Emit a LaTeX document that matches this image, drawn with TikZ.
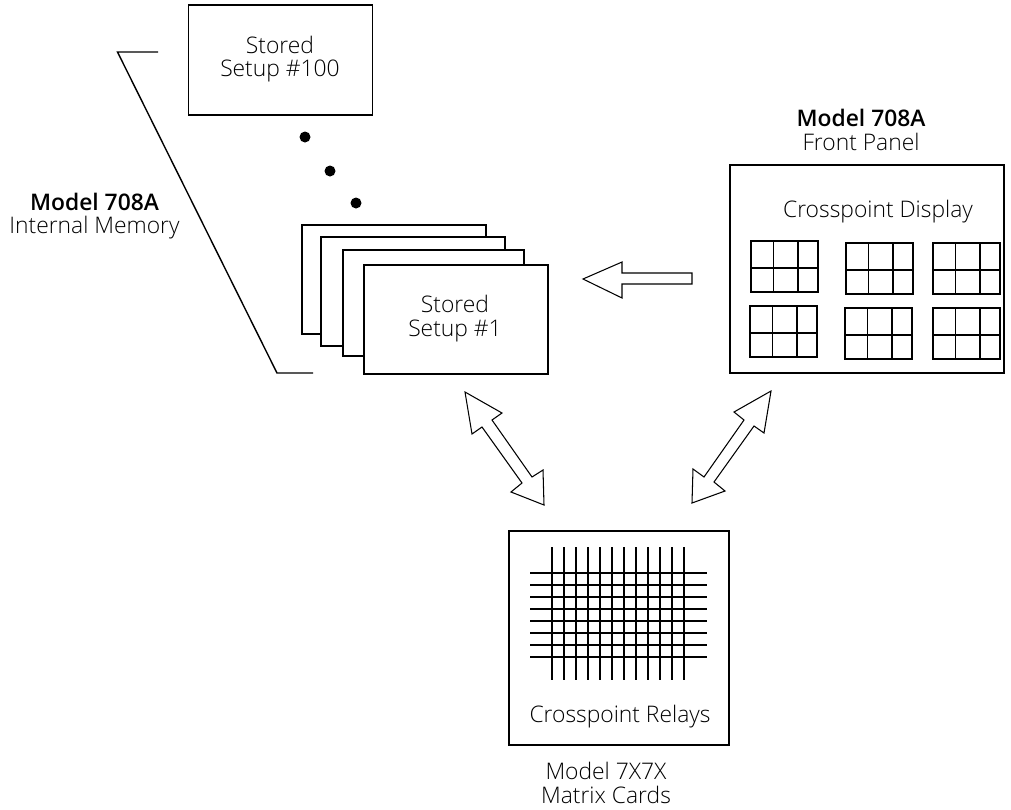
\documentclass[tikz,border=0pt]{standalone}
\usepackage{fontspec}
\setmainfont{Open Sans Light}[BoldFont={Open Sans Semibold}]
\usepackage{tikz}
\usetikzlibrary{positioning}

\begin{document}
\begin{tikzpicture}
    [
      x=0.02cm,y=-0.02cm,
      card/.style={draw,fill=white,line width=1pt,inner sep=0pt,minimum width=3.68cm,minimum height=2.18cm,align=center},
      panel/.style={draw,line width=1pt,inner sep=0pt},
      label/.style={inner sep=0pt,align=center,font=\fontsize{13}{13.5}\selectfont},
      dot/.style={circle,fill=black,inner sep=0pt,minimum size=0.22cm},
      cell/.style={line width=1pt},
      wire/.style={line width=1pt},
      hollow/.style={line width=0.6pt,line join=miter},
    ]
    \useasboundingbox (0,0) rectangle (1011,809);

    \node (setup100) [card,minimum height=2.2cm] at (280.5,60) {};
    \node (setup100text) [label] at (280,59) {Stored\\Setup \#100};
    \node (dota) [dot] at (305,137) {};
    \node (dotb) [dot] at (330,171) {};
    \node (dotc) [dot] at (356,203) {};

    \node (setupd) [card] at (394,279.5) {};
    \node (setupc) [card] at (413,291.5) {};
    \node (setupb) [card,minimum width=3.62cm,minimum height=2.12cm] at (433.5,303) {};
    \node (setupa) [card] at (456,319.5) {};
    \node (setupatext) [label] at (455,318.5) {Stored\\Setup \#1};

    % bracket around the stored setups
    \coordinate (brtop) at (158,52);
    \coordinate (brtopc) at (117.5,52);
    \coordinate (brbotc) at (277,373);
    \coordinate (brbot) at (313,373);
    \draw [line width=0.8pt] (brtop) -- (brtopc) -- (brbotc) -- (brbot);
    \node (memlabel) [label] at (94.5,216) {\textbf{Model 708A}\\Internal Memory};

    \node (front) [panel,minimum width=5.48cm,minimum height=4.16cm] at (867,269) {};
    \node (frontlabel) [label] at (861,130) {\textbf{Model 708A}\\Front Panel};
    \node (displaylabel) [label] at (878,212) {Crosspoint Display};
    \foreach \x/\y in {751/241,846/243,933/243,750/306,845/308,933/308} {
      \draw [cell] (\x,\y) rectangle ++(67,51);
      \draw [cell] (\x+22.5,\y) -- ++(0,51);
      \draw [cell] (\x+47,\y) -- ++(0,51);
      \draw [cell] (\x,\y+27) -- ++(67,0);
    }

    \node (relays) [panel,minimum width=4.4cm,minimum height=4.28cm] at (619,638) {};
    \node (relaylabel) [label] at (620,717) {Crosspoint Relays};
    \foreach \i in {0,...,11} {
      \draw [wire] (552.3+11.97*\i,547) -- (552.3+11.97*\i,680);
    }
    \foreach \j in {0,...,7} {
      \draw [wire] (530,573+11.96*\j) -- (707,573+11.96*\j);
    }
    \node (cardlabel) [label] at (606,783) {Model 7X7X\\Matrix Cards};

    % hollow block arrows
    \coordinate (savetip) at (583,279);
    \coordinate (recalltip) at (465,392);
    \coordinate (recallend) at (544,505);
    \coordinate (paneltip) at (771,391);
    \coordinate (panelend) at (692,503);
    \draw [hollow] (savetip) -- (622,262) -- (622,273) -- (692,273) -- (692,284) -- (622,284) -- (622,298) -- cycle;
    \draw [hollow] (recalltip) -- (502,413) -- (492,420) -- (532,477) -- (543,470) -- (recallend)
      -- (511,492) -- (522,483) -- (482,427) -- (472,434) -- cycle;
    \draw [hollow] (paneltip) -- (734,412) -- (744,420) -- (704,477) -- (693,469) -- (panelend)
      -- (725,491) -- (714,482) -- (754,426) -- (764,433) -- cycle;

\end{tikzpicture}
\end{document}
